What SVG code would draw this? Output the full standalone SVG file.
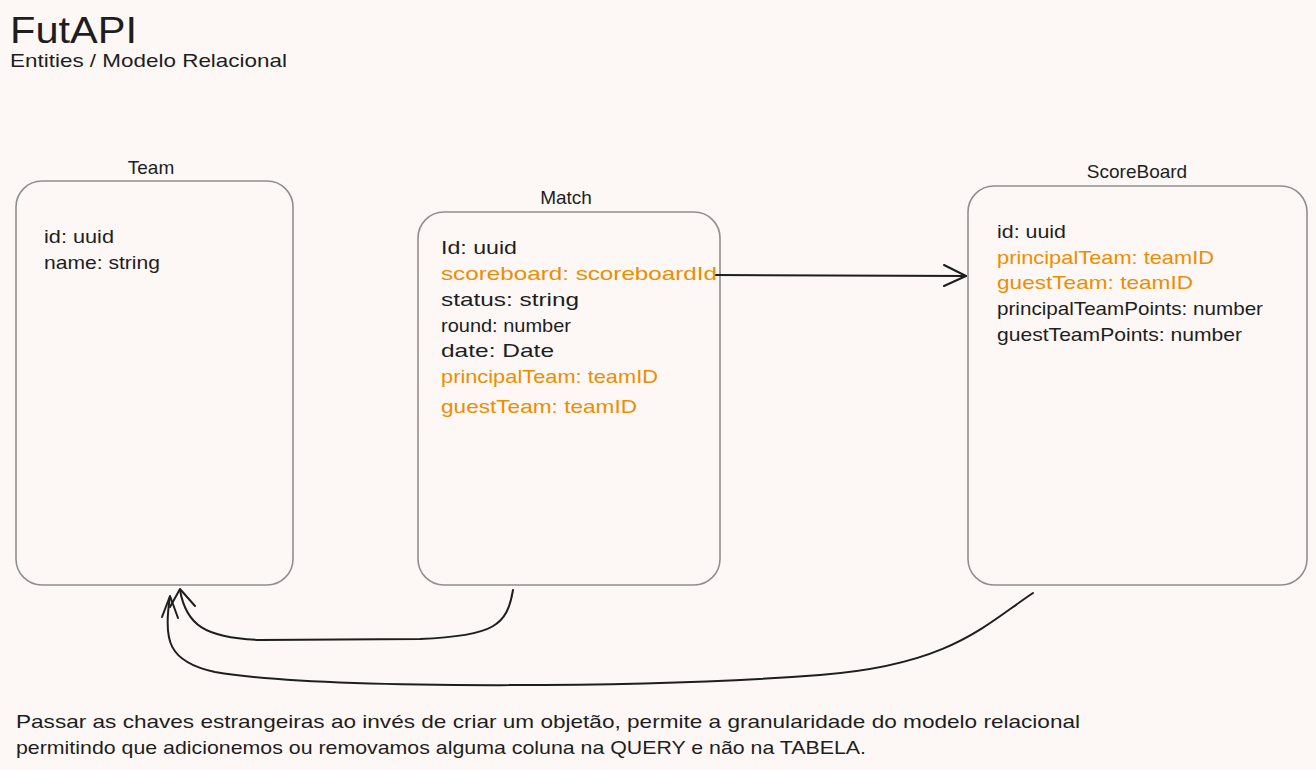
<svg xmlns="http://www.w3.org/2000/svg" width="1316" height="770" viewBox="0 0 1316 770">
<style>
  text { font-family: "Liberation Sans", "Noto Sans", sans-serif; fill: #1e1e1e; }
  .title { font-size: 36px; }
  .sub { font-size: 19px; }
  .lbl { font-size: 19px; text-anchor: middle; }
  .f { font-size: 19px; }
  .o { fill: #f08c00; }
  .box { fill: none; stroke: #8f8f8f; stroke-width: 1.6; }
  .conn { fill: none; stroke: #1e1e1e; stroke-width: 2; stroke-linecap: round; stroke-linejoin: round; }
  .note { font-size: 19px; }
</style>
<rect x="0" y="0" width="1316" height="770" fill="#fdf8f6"/>

<g id="header">
  <text class="title" x="10" y="43" textLength="127" lengthAdjust="spacingAndGlyphs">FutAPI</text>
  <text class="sub" x="10" y="67" textLength="277" lengthAdjust="spacingAndGlyphs">Entities / Modelo Relacional</text>
</g>

<g id="team">
  <rect class="box" x="16" y="181" width="277" height="404" rx="26"/>
  <text class="lbl" x="151" y="174">Team</text>
  <text class="f" x="44" y="243" textLength="70" lengthAdjust="spacingAndGlyphs">id: uuid</text>
  <text class="f" x="44" y="269" textLength="116" lengthAdjust="spacingAndGlyphs">name: string</text>
</g>

<g id="match">
  <rect class="box" x="418" y="212" width="302" height="373" rx="26"/>
  <text class="lbl" x="566" y="204">Match</text>
  <text class="f" x="441" y="254" textLength="76" lengthAdjust="spacingAndGlyphs">Id: uuid</text>
  <text class="f o" x="441" y="280" textLength="276" lengthAdjust="spacingAndGlyphs">scoreboard: scoreboardId</text>
  <text class="f" x="441" y="306" textLength="138" lengthAdjust="spacingAndGlyphs">status: string</text>
  <text class="f" x="441" y="332" textLength="130" lengthAdjust="spacingAndGlyphs">round: number</text>
  <text class="f" x="441" y="357" textLength="113" lengthAdjust="spacingAndGlyphs">date: Date</text>
  <text class="f o" x="441" y="383" textLength="217" lengthAdjust="spacingAndGlyphs">principalTeam: teamID</text>
  <text class="f o" x="441" y="413" textLength="196" lengthAdjust="spacingAndGlyphs">guestTeam: teamID</text>
</g>

<g id="scoreboard">
  <rect class="box" x="968" y="186" width="339" height="399" rx="26"/>
  <text class="lbl" x="1137" y="178">ScoreBoard</text>
  <text class="f" x="997" y="238" textLength="69" lengthAdjust="spacingAndGlyphs">id: uuid</text>
  <text class="f o" x="997" y="264" textLength="217" lengthAdjust="spacingAndGlyphs">principalTeam: teamID</text>
  <text class="f o" x="997" y="289" textLength="196" lengthAdjust="spacingAndGlyphs">guestTeam: teamID</text>
  <text class="f" x="997" y="315" textLength="266" lengthAdjust="spacingAndGlyphs">principalTeamPoints: number</text>
  <text class="f" x="997" y="341" textLength="245" lengthAdjust="spacingAndGlyphs">guestTeamPoints: number</text>
</g>

<g id="connectors">
  <path class="conn" d="M716,275 L966,276"/>
  <path class="conn" d="M944,265 L966,276 L944,286"/>

  <path class="conn" d="M513,590 C507,625 495,636 420,639 L260,640 C205,638 186,625 180,590"/>
  <path class="conn" d="M170,607 L180,589 L195,606"/>

  <path class="conn" d="M1033,593 C985,625 950,665 820,675 C650,688 320,690 215,672 C168,662 163,640 170,597"/>
  <path class="conn" d="M162,617 L170,596 L178,618"/>
</g>

<g id="note">
  <text class="note" x="16" y="728" textLength="1064" lengthAdjust="spacingAndGlyphs">Passar as chaves estrangeiras ao invés de criar um objetão, permite a granularidade do modelo relacional</text>
  <text class="note" x="16" y="754" textLength="850" lengthAdjust="spacingAndGlyphs">permitindo que adicionemos ou removamos alguma coluna na QUERY e não na TABELA.</text>
</g>
</svg>
